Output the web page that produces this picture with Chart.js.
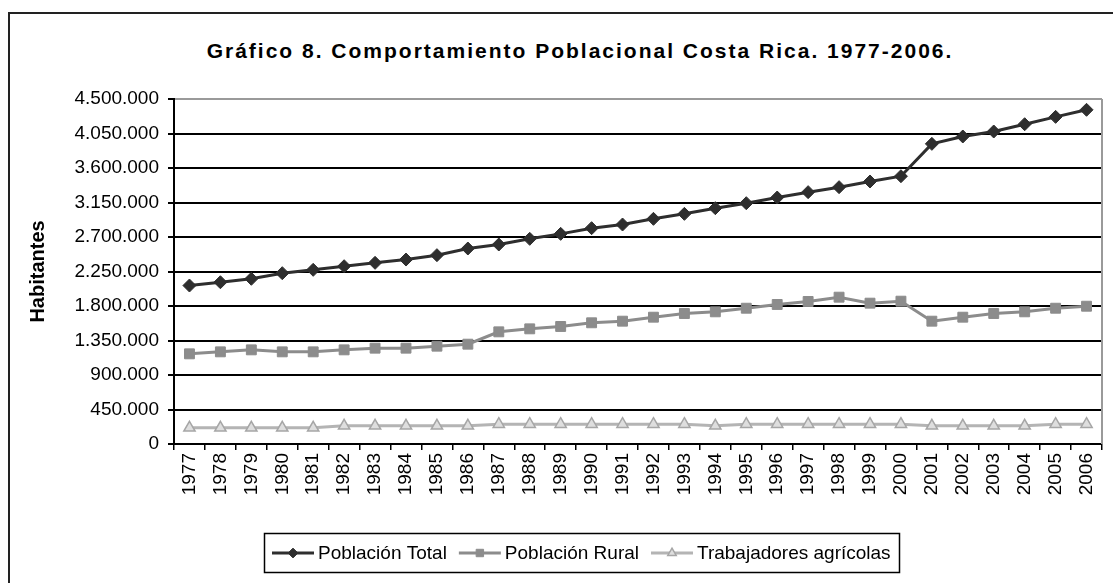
<!DOCTYPE html>
<html>
<head>
<meta charset="utf-8">
<script src="https://cdn.jsdelivr.net/npm/chart.js@4"></script>
<style>
  html, body { margin: 0; padding: 0; background: #fff; }
  #wrap { position: relative; width: 1113px; height: 583px; overflow: hidden; }
  #frame { position: absolute; left: 8px; top: 12px; width: 1200px; height: 700px; border: 2px solid #222; box-sizing: border-box; }
  #title { position: absolute; left: 0; width: 1160px; top: 39px; text-align: center; line-height: 24px;
           font: bold 21px "Liberation Sans", Arial, sans-serif; letter-spacing: 2px; color: #000; }
  canvas { position: absolute; left: 0; top: 0; }
</style>
</head>
<body>
<div id="wrap">
  <div id="frame"></div>
  <div id="title">Gráfico 8. Comportamiento Poblacional Costa Rica. 1977-2006.</div>
  <canvas id="c" width="1113" height="583"></canvas>
</div>
<script>
const years = ["1977","1978","1979","1980","1981","1982","1983","1984","1985","1986","1987","1988","1989","1990","1991","1992","1993","1994","1995","1996","1997","1998","1999","2000","2001","2002","2003","2004","2005","2006"];
const poblacionTotal = [2067000,2110000,2155000,2228000,2272000,2319000,2363000,2406000,2463000,2550000,2602000,2676000,2741000,2815000,2863000,2937000,3002000,3076000,3141000,3215000,3285000,3350000,3424000,3493000,3915000,4011000,4076000,4171000,4267000,4359000];
const poblacionRural = [1176000,1202000,1228000,1202000,1202000,1228000,1250000,1250000,1276000,1302000,1463000,1502000,1533000,1581000,1602000,1654000,1702000,1724000,1771000,1820000,1859000,1915000,1837000,1863000,1602000,1654000,1702000,1724000,1771000,1797000];
const trabajadoresAgricolas = [211000,211000,211000,211000,211000,237000,237000,237000,237000,237000,258000,258000,258000,258000,258000,258000,258000,237000,258000,258000,258000,258000,258000,258000,237000,237000,237000,237000,258000,258000];
const seriesNames = ["Población Total","Población Rural","Trabajadores agrícolas"];
const yMin = 0, yMax = 4500000, yStep = 450000;
const yAxisTitle = "Habitantes";

function fmt(v){ return String(v).replace(/\B(?=(\d{3})+(?!\d))/g, "."); }

const styles = [
  {line:"#2e2e2e", fill:"#2e2e2e", stroke:"#2e2e2e", point:"rectRot", r:6.5, bw:1},
  {line:"#8c8c8c", fill:"#8c8c8c", stroke:"#8c8c8c", point:"rect", r:7, bw:1},
  {line:"#b4b4b4", fill:"#dedede", stroke:"#a6a6a6", point:"triangle", r:6.5, bw:1.5}
];
const seriesData = [poblacionTotal, poblacionRural, trabajadoresAgricolas];

const datasets = seriesData.map((d,i)=>({
  label: seriesNames[i],
  data: d,
  borderColor: styles[i].line,
  borderWidth: 3,
  backgroundColor: styles[i].fill,
  pointBackgroundColor: styles[i].fill,
  pointBorderColor: styles[i].stroke,
  pointBorderWidth: styles[i].bw,
  pointStyle: styles[i].point,
  pointRadius: styles[i].r,
  pointHoverRadius: styles[i].r,
  tension: 0
}));

const frameLines = {
  id: "frameLines",
  beforeDatasetsDraw(chart){
    const {ctx, chartArea:a} = chart;
    ctx.save();
    ctx.strokeStyle = "#9a9a9a"; ctx.lineWidth = 2;
    ctx.beginPath(); ctx.moveTo(a.right, a.top); ctx.lineTo(a.right, a.bottom); ctx.stroke();
    ctx.restore();
  }
};

const boxedLegend = {
  id: "boxedLegend",
  afterDraw(chart){
    const ctx = chart.ctx;
    ctx.save();
    ctx.font = '19px "Liberation Sans", Arial, sans-serif';
    const sample = 42, gapT = 4, gapItem = 12, pad = 8;
    const widths = chart.data.datasets.map(ds => ctx.measureText(ds.label).width);
    const total = pad*2 + widths.reduce((s,w)=>s+sample+gapT+w,0) + gapItem*(widths.length-1);
    const left = 264, top = 533, h = 39;
    ctx.strokeStyle = "#000"; ctx.lineWidth = 1.5;
    ctx.strokeRect(left+0.5, top+0.5, Math.round(total), h);
    const cy = top + h/2 + 0.5;
    let x = left + pad;
    chart.data.datasets.forEach((ds,i)=>{
      ctx.strokeStyle = ds.borderColor; ctx.lineWidth = 3;
      ctx.beginPath(); ctx.moveTo(x, cy); ctx.lineTo(x+sample, cy); ctx.stroke();
      ctx.fillStyle = ds.pointBackgroundColor; ctx.strokeStyle = ds.pointBorderColor; ctx.lineWidth = ds.pointBorderWidth;
      Chart.helpers.drawPoint(ctx, {pointStyle: ds.pointStyle, radius: ds.pointRadius*0.75, rotation: 0, borderWidth: ds.pointBorderWidth}, x+sample/2, cy);
      ctx.fillStyle = "#000"; ctx.textBaseline = "middle"; ctx.textAlign = "left";
      ctx.fillText(ds.label, x+sample+gapT, cy+1);
      x += sample + gapT + widths[i] + gapItem;
    });
    ctx.restore();
  }
};

new Chart(document.getElementById("c"), {
  type: "line",
  data: { labels: years, datasets },
  options: {
    responsive: false,
    animation: false,
    layout: { padding: { top: 99, right: 11, left: 0, bottom: 0 } },
    plugins: { legend: { display: false }, title: { display: false }, tooltip: { enabled: false } },
    scales: {
      x: {
        offset: true,
        afterFit: s => { s.height = 139; },
        grid: { drawOnChartArea: false, drawTicks: true, tickLength: 6, color: "#000", lineWidth: 1.5, offset: true },
        border: { color: "#000", width: 2 },
        ticks: { color: "#000", minRotation: 90, maxRotation: 90, autoSkip: false, padding: 3,
                 font: { family: '"Liberation Sans", Arial, sans-serif', size: 19 } }
      },
      y: {
        min: yMin, max: yMax,
        afterFit: s => { s.width = 174; },
        afterBuildTicks: s => { s.ticks = []; for (let v = yMin; v <= yMax; v += yStep) s.ticks.push({value: v}); },
        grid: { color: c => (c.tick && c.tick.value === yMax) ? "#9a9a9a" : "#000", lineWidth: 2, drawTicks: true, tickLength: 6,
                tickColor: "#000" },
        border: { color: "#000", width: 2 },
        ticks: { color: "#000", padding: 9, callback: v => fmt(v),
                 font: { family: '"Liberation Sans", Arial, sans-serif', size: 19 } },
        title: { display: true, text: yAxisTitle, color: "#000", padding: { top: 26, bottom: 0 },
                 font: { family: '"Liberation Sans", Arial, sans-serif', size: 20, weight: "bold" } }
      }
    }
  },
  plugins: [frameLines, boxedLegend]
});
</script>
</body>
</html>
